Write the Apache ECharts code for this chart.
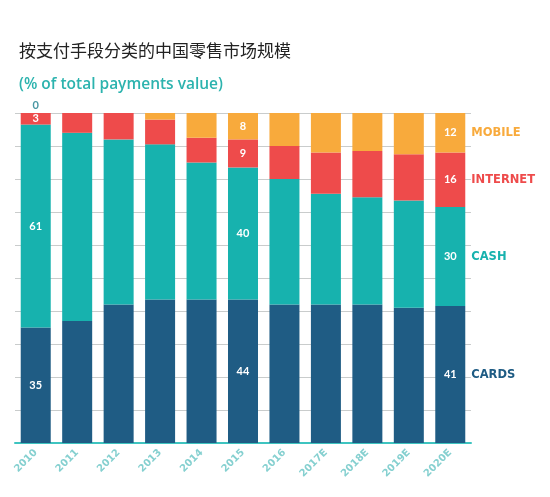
<!DOCTYPE html>
<html>
<head>
<meta charset="utf-8">
<script src="https://cdn.jsdelivr.net/npm/echarts@6/dist/echarts.min.js"></script>
<style>
html,body{margin:0;padding:0;background:#fff;}
#c{width:550px;height:497px;}
</style>
</head>
<body>
<div id="c"></div>
<script>
const categories = ['2010','2011','2012','2013','2014','2015','2016','2017E','2018E','2019E','2020E'];
const cards    = [35, 37, 42, 43.5, 43.5, 43.5, 42, 42, 42, 41, 41.5];
const cash     = [61.5, 57, 50, 47, 41.5, 40, 38, 33.5, 32.5, 32.5, 30];
const internet = [3.5, 6, 8, 7.5, 7.5, 8.5, 10, 12.5, 14, 14, 16.5];
const mobile   = [0, 0, 0, 2, 7.5, 8, 10, 12, 11.5, 12.5, 12];
// printed value labels (null = not shown)
const cardsLabels    = [35, null, null, null, null, 44, null, null, null, null, 41];
const cashLabels     = [61, null, null, null, null, 40, null, null, null, null, 30];
const internetLabels = [3, null, null, null, null, 9, null, null, null, null, 16];
const mobileLabels   = [0, null, null, null, null, 8, null, null, null, null, 12];
const seriesNames = ['CARDS','CASH','INTERNET','MOBILE'];
const colors = ['#1f5c84', '#17b2ae', '#ee4b4b', '#f8aa3c'];

const valueFont = {color:'#fff', fontFamily:'Lato', fontWeight:'bold', fontSize:11};

function build(values, labels, name, color, isMobile){
  const last = values.length - 1;
  return values.map((v, i) => {
    const item = {value: v};
    const lab = labels[i];
    if (lab === null) return item;
    if (i === last) {
      item.label = {
        show: true,
        position: ['50%','50%'],
        align: 'left',
        verticalAlign: 'middle',
        offset: [-9, 0],
        formatter: '{v|' + lab + '}{n|' + name + '}',
        rich: {
          v: {width: 18, align: 'center', color: '#fff', fontFamily: 'Lato', fontWeight: 'bold', fontSize: 11},
          n: {padding: [0,0,0,12], color: color, fontFamily: 'DejaVu Sans', fontWeight: 'bold', fontSize: 11.5}
        }
      };
    } else if (isMobile && v === 0) {
      item.label = {show: true, position: 'top', distance: 2, formatter: String(lab),
        color: '#4a97a3', fontFamily: 'Lato', fontWeight: 'bold', fontSize: 11};
    } else {
      item.label = Object.assign({show: true, position: 'inside', formatter: String(lab)}, valueFont);
    }
    return item;
  });
}

const chart = echarts.init(document.getElementById('c'), null, {renderer: 'canvas'});
const datasets = [cards, cash, internet, mobile];
const labelsets = [cardsLabels, cashLabels, internetLabels, mobileLabels];
chart.setOption({
  backgroundColor: '#fff',
  animation: false,
  title: [
    {text: '按支付手段分类的中国零售市场规模', left: 14, top: 37,
     textStyle: {fontFamily: 'Noto Sans CJK SC', fontWeight: 'normal', fontSize: 17, color: '#222'}},
    {text: '(% of total payments value)', left: 14, top: 72,
     textStyle: {fontFamily: 'Open Sans', fontWeight: 600, fontSize: 15.5, color: '#2cb3ae'}}
  ],
  grid: {left: 15, right: 79, top: 113, bottom: 54, containLabel: false},
  xAxis: {
    type: 'category',
    data: categories,
    axisLine: {show: true, lineStyle: {color: '#3ec4c0', width: 2}},
    axisTick: {show: false},
    axisLabel: {rotate: 45, color: '#85d0d0', fontFamily: 'DejaVu Sans', fontWeight: 'bold', fontSize: 10, margin: 8}
  },
  yAxis: {
    type: 'value', min: 0, max: 100, interval: 10,
    axisLabel: {show: false}, axisLine: {show: false}, axisTick: {show: false},
    splitLine: {show: true, lineStyle: {color: '#c9cccc', width: 1}}
  },
  series: datasets.map((d, k) => ({
    name: seriesNames[k],
    type: 'bar',
    stack: 'total',
    barWidth: 30,
    itemStyle: {color: colors[k]},
    data: build(d, labelsets[k], seriesNames[k], colors[k], k === 3)
  }))
});
</script>
</body>
</html>
